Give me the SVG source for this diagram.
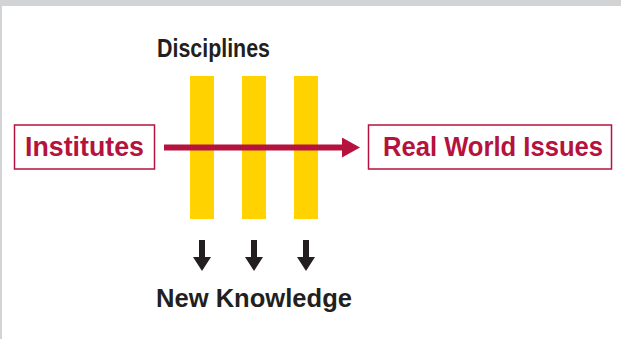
<svg xmlns="http://www.w3.org/2000/svg" width="621" height="339" viewBox="0 0 621 339">
<style>
.box{fill:#fff;stroke:#b5123e;stroke-width:1.5}
.lbl{font-family:"Liberation Sans",Arial,sans-serif;font-weight:bold}
.red{fill:#b5123e;font-size:27px}
.dark{fill:#231f20}
.bar{fill:#ffd200}
</style>
<defs>
<marker id="redhead" markerWidth="18" markerHeight="20" refX="0" refY="10" markerUnits="userSpaceOnUse" orient="auto">
<path d="M0,0 L18,10 L0,20 Z" fill="#b5123e"/>
</marker>
</defs>
<rect x="0" y="0" width="621" height="339" fill="#fff"/>
<rect x="0" y="0" width="621" height="6" fill="#d1d3d4"/>
<rect x="0" y="0" width="2" height="339" fill="#d1d3d4"/>
<g id="disciplines">
<rect class="bar" x="190" y="76" width="24" height="143"/>
<rect class="bar" x="242" y="76" width="24" height="143"/>
<rect class="bar" x="294" y="76" width="24" height="143"/>
<text class="lbl dark" x="213.5" y="57" font-size="25" text-anchor="middle" textLength="113" lengthAdjust="spacingAndGlyphs">Disciplines</text>
</g>
<g id="connectors">
<line x1="164" y1="147.5" x2="342" y2="147.5" stroke="#b5123e" stroke-width="6" marker-end="url(#redhead)"/>
<g fill="#231f20">
<rect x="199" y="240" width="6" height="18"/>
<path d="M193,257 L211,257 L202,271 Z"/>
<rect x="251" y="240" width="6" height="18"/>
<path d="M245,257 L263,257 L254,271 Z"/>
<rect x="303" y="240" width="6" height="18"/>
<path d="M297,257 L315,257 L306,271 Z"/>
</g>
</g>
<g id="institutes">
<rect class="box" x="14.5" y="125" width="140" height="44"/>
<text class="lbl red" x="84.5" y="156" text-anchor="middle" textLength="119" lengthAdjust="spacingAndGlyphs">Institutes</text>
</g>
<g id="real-world-issues">
<rect class="box" x="368.5" y="125" width="243" height="44"/>
<text class="lbl red" x="493" y="156" text-anchor="middle" textLength="220" lengthAdjust="spacingAndGlyphs">Real World Issues</text>
</g>
<g id="new-knowledge">
<text class="lbl dark" x="254" y="307" font-size="25" text-anchor="middle" textLength="196" lengthAdjust="spacingAndGlyphs">New Knowledge</text>
</g>
</svg>
